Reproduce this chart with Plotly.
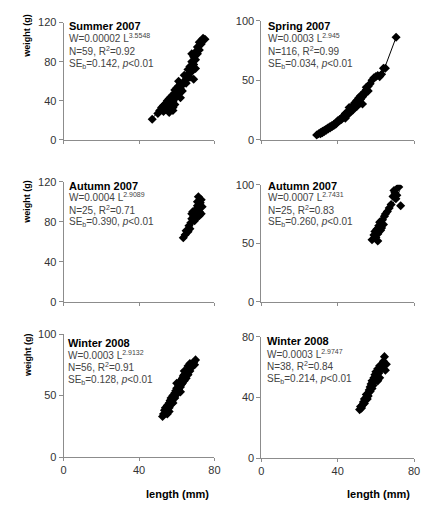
import plotly.graph_objects as go

W_PX, H_PX = 421, 507

# ---------------- data (length mm, weight g) ----------------
summer07_L = [47, 50, 51, 52, 53, 53, 54, 54, 55, 55, 56, 56, 56, 57, 57, 57, 58, 58, 58, 59,
              59, 59, 60, 60, 60, 61, 61, 61, 62, 62, 62, 63, 63, 64, 65, 66, 66, 67, 67, 68,
              68, 68, 69, 69, 70, 70, 71, 71, 72, 72, 73, 74, 75, 59, 58, 64, 65, 70, 69]
summer07_W = [21, 27, 30, 33, 29, 35, 37, 31, 40, 34, 42, 38, 28, 44, 36, 40, 46, 39, 33, 48,
              42, 51, 45, 53, 49, 55, 60, 47, 52, 57, 43, 56, 50, 60, 62, 67, 72, 64, 75, 70,
              80, 88, 77, 85, 82, 90, 88, 95, 92, 100, 98, 104, 103, 36, 30, 66, 58, 73, 62]
summer07_trend_L = [47, 55, 62, 68, 74.5]
summer07_trend_W = [22, 38, 54, 76, 104]

spring07_L = [29, 30, 31, 31, 32, 32, 33, 33, 34, 34, 35, 35, 36, 36, 37, 37, 38, 38, 39, 39,
              40, 40, 41, 41, 42, 42, 43, 43, 44, 44, 45, 45, 46, 46, 47, 47, 48, 48, 49, 49,
              50, 50, 51, 51, 52, 52, 53, 53, 54, 54, 55, 55, 56, 56, 57, 58, 59, 60, 61, 62,
              63, 64, 65, 70.6, 48, 50, 44, 46, 52]
spring07_W = [4, 5, 6, 5, 6, 7, 7, 8, 8, 9, 9, 10, 10, 11, 11, 12, 12, 13, 14, 13,
              15, 16, 16, 17, 18, 17, 19, 20, 20, 22, 21, 23, 24, 22, 26, 24, 27, 29, 28, 31,
              30, 33, 32, 35, 34, 37, 36, 30, 40, 38, 42, 44, 45, 41, 47, 50, 52, 53, 54, 53,
              55, 60, 60, 86, 25, 28, 18, 27, 31]
spring07_trend_L = [29, 40, 50, 60, 65, 70.6]
spring07_trend_W = [4.5, 16, 30, 52, 62, 86]

autumn07a_L = [63.5, 64.5, 65, 66, 66.5, 67, 67.5, 68, 68, 68.5, 69, 69.5, 70, 70, 70.5,
               71, 71, 71.5, 72, 72, 72.5, 73, 73, 73.5, 72]
autumn07a_W = [64, 67, 71, 70, 76, 73, 79, 88, 83, 90, 85, 81, 87, 92, 84,
               96, 100, 105, 90, 94, 99, 88, 102, 95, 86]
autumn07a_trend_L = [63.5, 68, 73.5]
autumn07a_trend_W = [66, 82, 100]

autumn07b_L = [58, 59, 59.5, 60, 60.5, 61, 61, 61.5, 62, 62.5, 63, 63.5, 64, 64.5, 65,
               66, 67, 68, 69, 69.5, 70, 70.5, 71, 72, 73]
autumn07b_W = [53, 57, 60, 55, 62, 58, 52, 65, 68, 61, 63, 70, 66, 73, 75,
               77, 80, 83, 90, 95, 93, 88, 91, 98, 82]
autumn07b_trend_L = [58, 65, 72.5]
autumn07b_trend_W = [55, 71, 95]

winter08a_L = [52.5, 53, 53.5, 54, 54, 54.5, 55, 55, 55.5, 56, 56, 56.5, 57, 57, 57.5, 58,
               58, 58.5, 59, 59, 59.5, 60, 60, 60.5, 61, 61, 61.5, 62, 62, 62.5, 63, 63,
               63.5, 64, 64, 64.5, 65, 65, 65.5, 66, 66.5, 67, 67.5, 68, 68.5, 69, 69.5,
               70, 66, 62, 58, 56, 60, 64, 67, 55]
winter08a_W = [33, 35, 38, 36, 40, 39, 42, 38, 41, 44, 40, 46, 43, 48, 45, 50,
               47, 49, 52, 48, 54, 51, 56, 53, 58, 55, 60, 57, 62, 59, 64, 60,
               66, 62, 67, 65, 69, 64, 70, 67, 72, 70, 74, 73, 76, 77, 75,
               79, 74, 53, 44, 37, 60, 70, 76, 35]
winter08a_trend_L = [52.5, 60, 70]
winter08a_trend_W = [34, 52, 78]

winter08b_L = [51.5, 52, 52.5, 53, 53.5, 54, 54, 54.5, 55, 55, 55.5, 56, 56, 56.5, 57, 57,
               57.5, 58, 58, 58.5, 59, 59, 59.5, 60, 60, 60.5, 61, 61, 61.5, 62, 62, 62.5,
               63, 63.5, 64, 64.5, 65, 65.5]
winter08b_W = [32, 34, 33, 35, 37, 36, 39, 38, 40, 42, 39, 43, 41, 45, 47, 44,
               49, 46, 51, 48, 53, 50, 55, 52, 57, 54, 59, 51, 56, 61, 53, 58,
               60, 62, 64, 67, 58, 62]
winter08b_trend_L = [51.5, 58, 65.5]
winter08b_trend_W = [33, 48, 66]

panels = [
    dict(L=summer07_L, W=summer07_W, tL=summer07_trend_L, tW=summer07_trend_W,
         title="Summer 2007", eq="W=0.00002 L<sup>3.5548</sup>", nr="N=59, R<sup>2</sup>=0.92",
         se="SE<sub>b</sub>=0.142, <i>p</i>&lt;0.01", yr=120, dt=40,
         box=(62, 216, 17, 137), tx=65, ty=[20, 33, 46, 59]),
    dict(L=spring07_L, W=spring07_W, tL=spring07_trend_L, tW=spring07_trend_W,
         title="Spring 2007", eq="W=0.0003 L<sup>2.945</sup>", nr="N=116, R<sup>2</sup>=0.99",
         se="SE<sub>b</sub>=0.034, <i>p</i>&lt;0.01", yr=100, dt=50,
         box=(264, 420, 15, 137), tx=269, ty=[20, 33, 46, 59]),
    dict(L=autumn07a_L, W=autumn07a_W, tL=autumn07a_trend_L, tW=autumn07a_trend_W,
         title="Autumn 2007", eq="W=0.0004 L<sup>2.9089</sup>", nr="N=25, R<sup>2</sup>=0.71",
         se="SE<sub>b</sub>=0.390, <i>p</i>&lt;0.01", yr=120, dt=40,
         box=(62, 216, 180, 303), tx=65, ty=[184, 196, 209, 221]),
    dict(L=autumn07b_L, W=autumn07b_W, tL=autumn07b_trend_L, tW=autumn07b_trend_W,
         title="Autumn 2007", eq="W=0.0007 L<sup>2.7431</sup>", nr="N=25, R<sup>2</sup>=0.83",
         se="SE<sub>b</sub>=0.260, <i>p</i>&lt;0.01", yr=100, dt=50,
         box=(264, 420, 183, 303), tx=269, ty=[184, 196, 209, 221]),
    dict(L=winter08a_L, W=winter08a_W, tL=winter08a_trend_L, tW=winter08a_trend_W,
         title="Winter 2008", eq="W=0.0003 L<sup>2.9132</sup>", nr="N=56, R<sup>2</sup>=0.91",
         se="SE<sub>b</sub>=0.128, <i>p</i>&lt;0.01", yr=100, dt=50,
         box=(62, 216, 336, 462), tx=64, ty=[345, 357, 370, 383]),
    dict(L=winter08b_L, W=winter08b_W, tL=winter08b_trend_L, tW=winter08b_trend_W,
         title="Winter 2008", eq="W=0.0003 L<sup>2.9747</sup>", nr="N=38, R<sup>2</sup>=0.84",
         se="SE<sub>b</sub>=0.214, <i>p</i>&lt;0.01", yr=80, dt=40,
         box=(264, 420, 339, 463), tx=268, ty=[343, 356, 369, 382]),
]

x_ticks = [0, 40, 80]
y_title = "weight (g)"
x_title = "length (mm)"


def fx(px):
    return px / W_PX


def fy(py):
    return 1 - py / H_PX


fig = go.Figure()
layout = dict(width=W_PX, height=H_PX, autosize=False,
              margin=dict(l=0, r=0, t=0, b=0, pad=0),
              paper_bgcolor="white", plot_bgcolor="white",
              showlegend=False, font=dict(family="Arial, Liberation Sans", size=11, color="#333"))
annotations = []
AX = "#8c8c8c"

for i, p in enumerate(panels, start=1):
    sfx = "" if i == 1 else str(i)
    x0, x1, y0, y1 = p["box"]
    bottom = i >= 5
    fig.add_trace(go.Scatter(x=p["tL"], y=p["tW"], mode="lines",
                             line=dict(color="black", width=1),
                             xaxis="x" + sfx, yaxis="y" + sfx, hoverinfo="skip"))
    fig.add_trace(go.Scatter(x=p["L"], y=p["W"], mode="markers",
                             marker=dict(symbol="diamond", size=7, color="black",
                                         line=dict(width=0)),
                             xaxis="x" + sfx, yaxis="y" + sfx))
    layout["xaxis" + sfx] = dict(domain=[fx(x0), fx(x1)], anchor="y" + sfx,
                                 range=[0, 80], tickvals=x_ticks,
                                 showticklabels=bottom, ticks="outside", ticklen=3,
                                 tickcolor=AX, showline=True, linecolor=AX, linewidth=1,
                                 showgrid=False, zeroline=False,
                                 tickfont=dict(size=11, color="#333"))
    layout["yaxis" + sfx] = dict(domain=[fy(y1), fy(y0)], anchor="x" + sfx,
                                 range=[0, p["yr"]], dtick=p["dt"], tick0=0,
                                 ticks="outside", ticklen=4, tickcolor=AX,
                                 showline=True, linecolor=AX, linewidth=1,
                                 showgrid=False, zeroline=False,
                                 tickfont=dict(size=11, color="#333"))
    lines = ["<b>%s</b>" % p["title"], p["eq"], p["nr"], p["se"]]
    for j, (txt, ty) in enumerate(zip(lines, p["ty"])):
        annotations.append(dict(text=txt, x=fx(p["tx"]), y=fy(ty), xref="paper", yref="paper",
                                xanchor="left", yanchor="middle", showarrow=False,
                                font=dict(size=11 if j == 0 else 10,
                                          color="black" if j == 0 else "#444")))

# y titles (left column)
for cy in [30, 200, 357]:
    annotations.append(dict(text="<b>%s</b>" % y_title, x=fx(25), y=fy(cy), xref="paper",
                            yref="paper", textangle=-90, showarrow=False,
                            xanchor="center", yanchor="middle",
                            font=dict(size=9, color="black")))
# x titles (bottom row)
for cx in [178, 384]:
    annotations.append(dict(text="<b>%s</b>" % x_title, x=fx(cx), y=fy(500), xref="paper",
                            yref="paper", showarrow=False, xanchor="center", yanchor="middle",
                            font=dict(size=11, color="black")))

layout["annotations"] = annotations
fig.update_layout(**layout)
fig.write_html("out.html", config={"displayModeBar": False},
               post_script="document.body.style.margin='0';document.body.style.overflow='hidden';")
